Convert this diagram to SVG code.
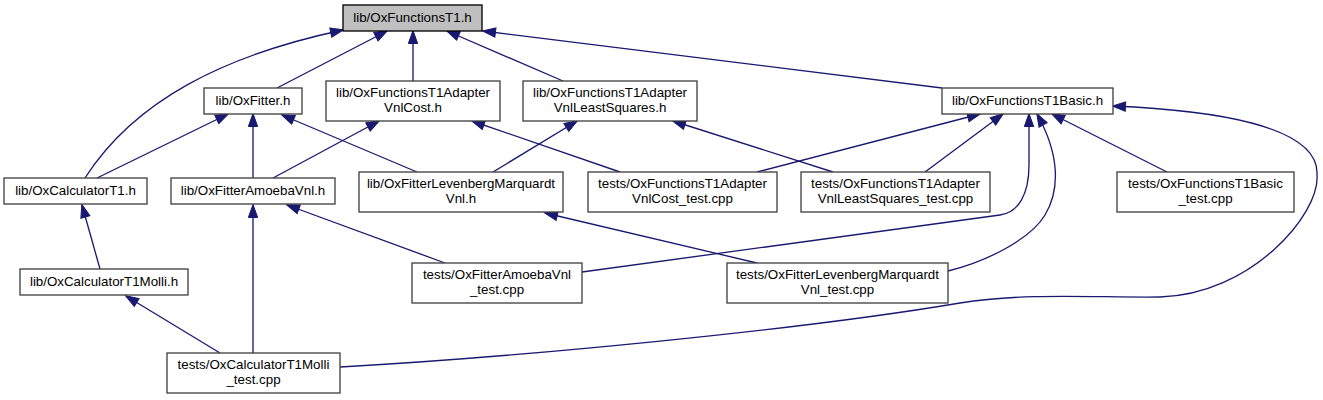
<svg xmlns="http://www.w3.org/2000/svg" width="1323" height="400" viewBox="0 0 1323 400">
<style>
.node rect{fill:#ffffff;stroke:#404040;stroke-width:1.33}
.node.root rect{fill:#bfbfbf;stroke:#000000}
.node text{font-family:"Liberation Sans",Arial,Helvetica,sans-serif;font-size:13.33px;fill:#000000;text-anchor:middle}
.edges path{fill:none;stroke:#191970;stroke-width:1.33;marker-end:url(#arr)}
</style>
<defs>
<marker id="arr" markerUnits="userSpaceOnUse" viewBox="0 0 13 9.33" refX="12.5" refY="4.67" markerWidth="13" markerHeight="9.33" orient="auto" overflow="visible">
<path d="M0,0 L13,4.67 L0,9.33 Z" fill="#191970" stroke="#191970" stroke-width="1"/>
</marker>
</defs>
<rect width="1323" height="400" fill="#ffffff"/>
<g class="edges">
<path d="M85,178 C135,100 225,55 343,30"/>
<path d="M277,88 L387,31"/>
<path d="M413,81 L413,31"/>
<path d="M563,81 L447,31"/>
<path d="M942,88 L483,31"/>
<path d="M97,178 L228,114"/>
<path d="M253,178 L253,114"/>
<path d="M417,172 L282,115"/>
<path d="M273,178 L379,121"/>
<path d="M493,172 L577,121"/>
<path d="M620,172 L472,121"/>
<path d="M833,172 L673,121"/>
<path d="M757,172 L980,114"/>
<path d="M925,172 L1003,114"/>
<path d="M1167,172 L1052,114"/>
<path d="M582,272 L1000,215 C1018,212.5 1029,195 1029,165 L1029,114"/>
<path d="M948,271 C985,262 1030,240 1045,215 C1060,190 1060,155 1037,114"/>
<path d="M340,367 C520,357 800,330 960,303 C1030,292 1100,298 1160,297 C1250,295 1320,215 1317,175 C1320,125 1210,110 1113,106"/>
<path d="M445,263 L287,205"/>
<path d="M253,353 L253,205"/>
<path d="M220,353 L126,296"/>
<path d="M100,269 L82,205"/>
<path d="M757,263 L545,213"/>
</g>
<g id="n_t1" class="node root"><rect x="343" y="5" width="139" height="26"/><text x="412.5" y="22">lib/OxFunctionsT1.h</text></g>
<g id="n_fitter" class="node"><rect x="204" y="88" width="98" height="26"/><text x="253" y="105">lib/OxFitter.h</text></g>
<g id="n_adcost" class="node"><rect x="326" y="81" width="174" height="40"/><text x="413" y="96.5">lib/OxFunctionsT1Adapter</text><text x="413" y="111.5">VnlCost.h</text></g>
<g id="n_adls" class="node"><rect x="523" y="81" width="174" height="40"/><text x="610" y="96.5">lib/OxFunctionsT1Adapter</text><text x="610" y="111.5">VnlLeastSquares.h</text></g>
<g id="n_basic" class="node"><rect x="942" y="88" width="171" height="26"/><text x="1027.5" y="105">lib/OxFunctionsT1Basic.h</text></g>
<g id="n_calc" class="node"><rect x="4" y="178" width="143" height="26"/><text x="75.5" y="195">lib/OxCalculatorT1.h</text></g>
<g id="n_amoeba" class="node"><rect x="171" y="178" width="164" height="26"/><text x="253" y="195">lib/OxFitterAmoebaVnl.h</text></g>
<g id="n_lm" class="node"><rect x="359" y="172" width="204" height="40"/><text x="461" y="187.5">lib/OxFitterLevenbergMarquardt</text><text x="461" y="202.5">Vnl.h</text></g>
<g id="n_costtest" class="node"><rect x="588" y="172" width="189" height="40"/><text x="682.5" y="187.5">tests/OxFunctionsT1Adapter</text><text x="682.5" y="202.5">VnlCost_test.cpp</text></g>
<g id="n_lstest" class="node"><rect x="801" y="172" width="189" height="40"/><text x="895.5" y="187.5">tests/OxFunctionsT1Adapter</text><text x="895.5" y="202.5">VnlLeastSquares_test.cpp</text></g>
<g id="n_basictest" class="node"><rect x="1117" y="172" width="177" height="40"/><text x="1205.5" y="187.5">tests/OxFunctionsT1Basic</text><text x="1205.5" y="202.5">_test.cpp</text></g>
<g id="n_molli" class="node"><rect x="20" y="269" width="168" height="26"/><text x="104" y="286">lib/OxCalculatorT1Molli.h</text></g>
<g id="n_amoebatest" class="node"><rect x="412" y="263" width="170" height="40"/><text x="497" y="278.5">tests/OxFitterAmoebaVnl</text><text x="497" y="293.5">_test.cpp</text></g>
<g id="n_lmtest" class="node"><rect x="727" y="263" width="221" height="40"/><text x="837.5" y="278.5">tests/OxFitterLevenbergMarquardt</text><text x="837.5" y="293.5">Vnl_test.cpp</text></g>
<g id="n_mollitest" class="node"><rect x="167" y="353" width="173" height="40"/><text x="253.5" y="368.5">tests/OxCalculatorT1Molli</text><text x="253.5" y="383.5">_test.cpp</text></g>
</svg>
